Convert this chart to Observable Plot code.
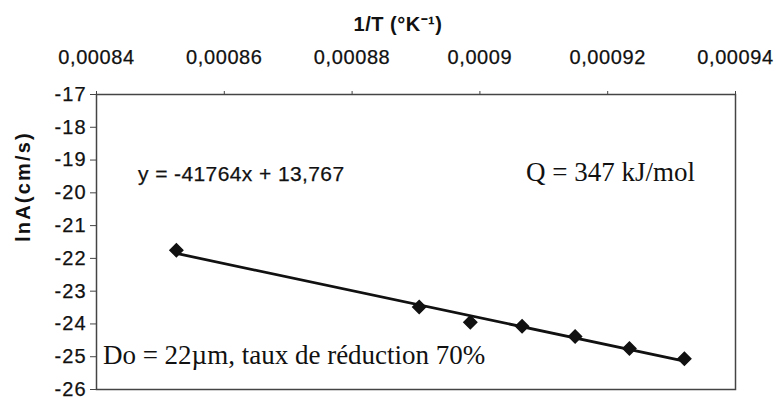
<!DOCTYPE html>
<html>
<head>
<meta charset="utf-8">
<script src="https://cdn.jsdelivr.net/npm/d3@7"></script>
<script src="https://cdn.jsdelivr.net/npm/@observablehq/plot@0.6"></script>
<style>
  html, body { margin: 0; padding: 0; background: #fff; }
  #chart svg { display: block; }
  #chart [aria-label="x-axis tick label"] text { letter-spacing: 0.6px; stroke: #111; stroke-width: 0.25px; }
  #chart [aria-label="y-axis tick label"] text { letter-spacing: 1px; stroke: #111; stroke-width: 0.25px; }
</style>
</head>
<body>
<div id="chart"></div>
<script>
// Data
const invT = [0.0008525, 0.0008905, 0.0008985, 0.0009066, 0.0009149, 0.0009234, 0.0009320];
const lnA  = [-21.75, -23.48, -23.95, -24.07, -24.38, -24.75, -25.06];

// Axis ticks and labels
const xTicks = [0.00084, 0.00086, 0.00088, 0.0009, 0.00092, 0.00094];
const xTickLabels = ["0,00084", "0,00086", "0,00088", "0,0009", "0,00092", "0,00094"];
const yTicks = [-26, -25, -24, -23, -22, -21, -20, -19, -18, -17];
const yTickLabels = ["-26", "-25", "-24", "-23", "-22", "-21", "-20", "-19", "-18", "-17"];

const xTitle = "1/T (°K⁻¹)";
const yTitle = "lnA(cm/s)";

// Annotations (text, anchor position in data units)
const annText = ["y = -41764x + 13,767", "Q = 347 kJ/mol", "Do = 22µm, taux de réduction 70%"];
const annX = [0.0008465, 0.0009072, 0.000841];
const annY = [-19.42, -19.38, -24.95];
const annFont = ["Liberation Sans, Arial, sans-serif", "Liberation Serif, Times New Roman, serif", "Liberation Serif, Times New Roman, serif"];
const annSize = [21, 27, 27];

const data = invT.map((x, i) => ({x, y: lnA[i]}));
const ann = annText.map((t, i) => ({t, x: annX[i], y: annY[i], font: annFont[i], size: annSize[i]}));

const sans = "Liberation Sans, Arial, sans-serif";

const chart = Plot.plot({
  width: 781,
  height: 402,
  marginLeft: 96,
  marginRight: 46,
  marginTop: 94,
  marginBottom: 13,
  style: {fontFamily: sans, background: "#fff", color: "#111"},
  x: {domain: [0.00084, 0.00094]},
  y: {domain: [-26, -17]},
  marks: [
    Plot.frame({stroke: "#444", strokeWidth: 1.5}),
    Plot.axisX({
      anchor: "top",
      ticks: xTicks,
      tickFormat: d => xTickLabels[xTicks.findIndex(t => Math.abs(t - d) < 1e-12)],
      tickSize: 4,
      tickPadding: 27,
      fontSize: 20,
      stroke: "#444",
      label: null
    }),
    Plot.axisY({
      anchor: "left",
      ticks: yTicks,
      tickFormat: d => yTickLabels[yTicks.indexOf(d)],
      tickSize: 6,
      tickPadding: 4,
      fontSize: 20,
      stroke: "#444",
      label: null
    }),
    Plot.text([xTitle], {
      frameAnchor: "top",
      text: d => d,
      dy: -78,
      dx: -18,
      fontSize: 20,
      fontWeight: "bold",
      fill: "#111"
    }),
    Plot.text([yTitle], {
      frameAnchor: "left",
      text: d => d,
      rotate: -90,
      dx: -73,
      fontSize: 20,
      fontWeight: "bold",
      fill: "#111"
    }),
    Plot.linearRegressionY(data, {x: "x", y: "y", ci: 0, stroke: "#111", strokeWidth: 2.8}),
    Plot.dot(data, {x: "x", y: "y", symbol: "diamond2", r: 5.8, fill: "#111", stroke: "#111"}),
    ...ann.map(a => Plot.text([a], {
      x: "x", y: "y", text: "t",
      textAnchor: "start",
      fontFamily: a.font,
      fontSize: a.size,
      fill: "#111"
    }))
  ]
});

document.getElementById("chart").append(chart);
// letter spacing for sans annotations/titles to match the reference's wide glyphs
d3.select(chart).selectAll("text").each(function() {
  const t = this.textContent;
  if (t === yTitle) this.style.letterSpacing = "2.2px";
  if (t === xTitle) this.style.letterSpacing = "0.5px";
  if (t === annText[0]) { this.style.letterSpacing = "0.4px"; this.style.stroke = "#111"; this.style.strokeWidth = "0.25px"; }
});
</script>
</body>
</html>
